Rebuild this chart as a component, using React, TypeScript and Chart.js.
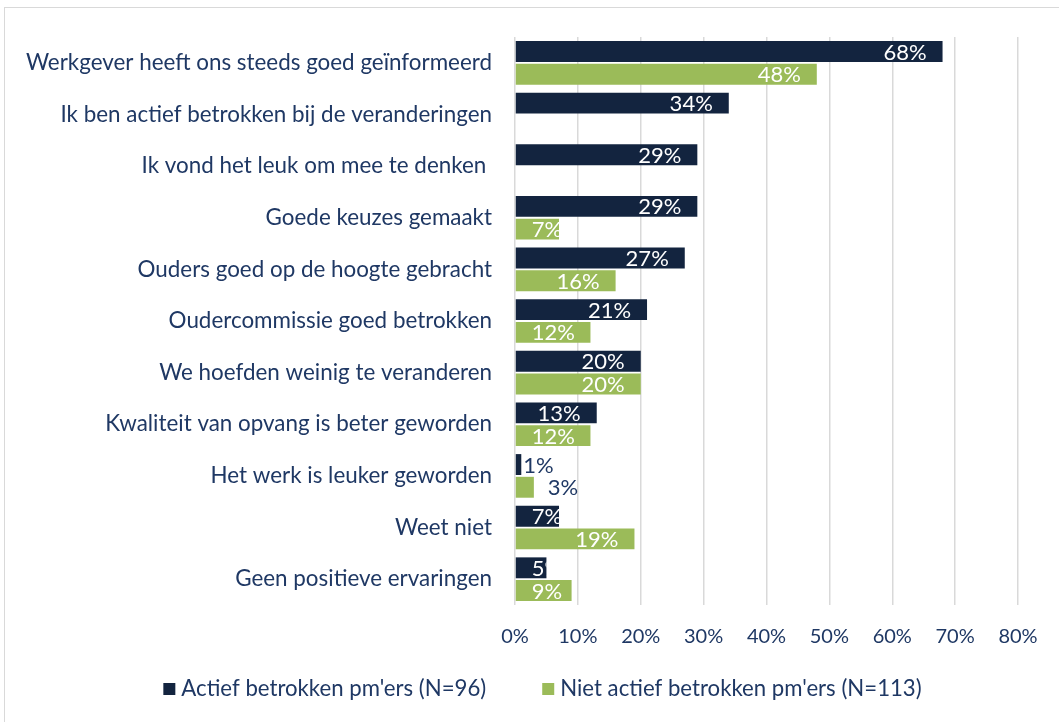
import React, { useEffect, useRef } from 'react';
import { Chart, registerables } from 'chart.js';

Chart.register(...registerables);

const categories = [
  'Werkgever heeft ons steeds goed geïnformeerd',
  'Ik ben actief betrokken bij de veranderingen',
  'Ik vond het leuk om mee te denken ',
  'Goede keuzes gemaakt',
  'Ouders goed op de hoogte gebracht',
  'Oudercommissie goed betrokken',
  'We hoefden weinig te veranderen',
  'Kwaliteit van opvang is beter geworden',
  'Het werk is leuker geworden',
  'Weet niet',
  'Geen positieve ervaringen',
];
const actiefValues = [68, 34, 29, 29, 27, 21, 20, 13, 1, 7, 5];
const nietActiefValues = [48, null, null, 7, 16, 12, 20, 12, 3, 19, 9];
const seriesNames = ["Actief betrokken pm'ers (N=96)", "Niet actief betrokken pm'ers (N=113)"];
const xTickValues = [0, 10, 20, 30, 40, 50, 60, 70, 80];

const NAVY = '#13243F';
const GREEN = '#9BBB59';
const TEXT = '#1F3864';
const FONT = 'Lato, "Open Sans", sans-serif';

const labelPlugin = {
  id: 'barLabels',
  afterDatasetsDraw(chart: any) {
    const ctx = chart.ctx;
    ctx.save();
    ctx.font = `22px ${FONT}`;
    ctx.textBaseline = 'middle';
    chart.data.datasets.forEach((ds: any, di: number) => {
      const meta = chart.getDatasetMeta(di);
      meta.data.forEach((bar: any, i: number) => {
        const v = ds.data[i];
        if (v == null) return;
        const { x, y, base, height } = bar.getProps(['x', 'y', 'base', 'height'], true);
        const text = `${v}%`;
        const w = ctx.measureText(text).width;
        const barW = x - base;
        if (barW < 25) {
          ctx.fillStyle = TEXT;
          ctx.textAlign = 'left';
          ctx.fillText(text, x + (barW < 10 ? 2 : 14), y + 1);
        } else {
          const tx = Math.max(x - 16 - w, base + 16);
          ctx.save();
          ctx.beginPath();
          ctx.rect(base, y - height / 2, barW, height);
          ctx.clip();
          ctx.fillStyle = '#FFFFFF';
          ctx.textAlign = 'left';
          ctx.fillText(text, tx, y + 1);
          ctx.restore();
        }
      });
    });
    ctx.restore();
  },
};

const legendPlugin = {
  id: 'customLegend',
  afterDraw(chart: any) {
    const ctx = chart.ctx;
    ctx.save();
    ctx.font = `22.2px ${FONT}`;
    ctx.textBaseline = 'middle';
    ctx.textAlign = 'left';
    const box = 12;
    const boxGap = 6;
    const itemGap = 56;
    const items = chart.data.datasets.map((ds: any) => ({
      label: ds.label,
      color: ds.backgroundColor,
      w: box + boxGap + ctx.measureText(ds.label).width,
    }));
    const total = items.reduce((s: number, it: any) => s + it.w, 0) + itemGap * (items.length - 1);
    let x = (chart.width - total) / 2 + 13;
    const y = 689;
    items.forEach((it: any) => {
      ctx.fillStyle = it.color;
      ctx.fillRect(x, y - box / 2, box, box);
      ctx.fillStyle = TEXT;
      ctx.fillText(it.label, x + box + boxGap, y);
      x += it.w + itemGap;
    });
    ctx.restore();
  },
};

export default function App() {
  const canvasRef = useRef<HTMLCanvasElement | null>(null);

  useEffect(() => {
    if (!canvasRef.current) return;
    const chart = new Chart(canvasRef.current, {
      type: 'bar',
      data: {
        labels: categories,
        datasets: [
          {
            label: seriesNames[0],
            data: actiefValues,
            backgroundColor: NAVY,
            borderWidth: 0,
            categoryPercentage: 0.88,
            barPercentage: 0.92,
          },
          {
            label: seriesNames[1],
            data: nietActiefValues as any,
            backgroundColor: GREEN,
            borderWidth: 0,
            categoryPercentage: 0.88,
            barPercentage: 0.92,
          },
        ],
      },
      options: {
        indexAxis: 'y',
        responsive: false,
        maintainAspectRatio: false,
        animation: false,
        layout: { padding: { top: 37, right: 41, left: 0, bottom: 72 } },
        plugins: {
          legend: { display: false },
          tooltip: { enabled: false },
        },
        scales: {
          x: {
            min: 0,
            max: 80,
            afterBuildTicks: (scale: any) => {
              scale.ticks = xTickValues.map((v) => ({ value: v }));
            },
            afterFit: (scale: any) => {
              scale.height = 45;
            },
            grid: { color: '#D9D9D9', lineWidth: 1.5, drawTicks: false },
            border: { display: false },
            ticks: {
              color: TEXT,
              font: { family: FONT, size: 20 },
              padding: 20,
              callback: (v: any) => `${v}%`,
            },
          },
          y: {
            afterFit: (scale: any) => {
              scale.width = 515;
            },
            grid: { display: false, drawTicks: false },
            border: { display: false },
            ticks: {
              color: TEXT,
              font: { family: FONT, size: 22.4 },
              padding: 23,
            },
          },
        },
      },
      plugins: [labelPlugin, legendPlugin],
    });
    return () => chart.destroy();
  }, []);

  return (
    <div style={{ position: 'fixed', left: 0, top: 0, width: 1059, height: 722, overflow: 'hidden', background: '#fff' }}>
      <div
        style={{
          position: 'absolute',
          left: 4,
          top: 7,
          width: 1080,
          height: 760,
          border: '1px solid #D9D9D9',
          boxSizing: 'border-box',
        }}
      />
      <canvas ref={canvasRef} width={1059} height={722} style={{ position: 'absolute', left: 0, top: 0 }} />
    </div>
  );
}
